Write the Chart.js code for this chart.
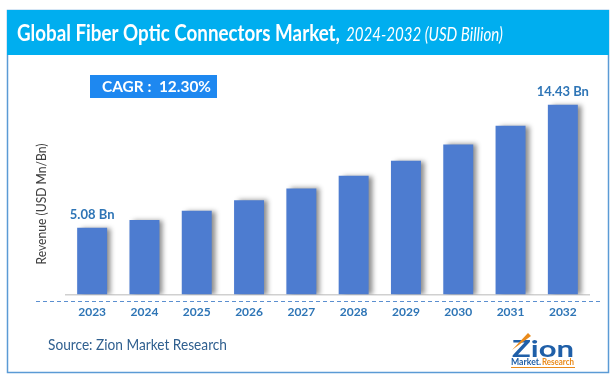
<!DOCTYPE html>
<html><head><meta charset="utf-8">
<script src="https://cdn.jsdelivr.net/npm/chart.js@4.4.0/dist/chart.umd.min.js"></script>
<style>html,body{margin:0;padding:0;background:#fff}#wrap{width:616px;height:385px;position:relative}</style>
</head><body><div id="wrap"><canvas id="c" width="616" height="385"></canvas></div>
<script>
const years = ["2023","2024","2025","2026","2027","2028","2029","2030","2031","2032"];
const revenue = [5.08, 5.67, 6.37, 7.17, 8.07, 9.03, 10.16, 11.41, 12.83, 14.43];
const valueLabels = ["5.08 Bn","","","","","","","","","14.43 Bn"];
const titleMain = "Global Fiber Optic Connectors Market,";
const titleSub = "2024-2032 (USD Billion)";
const cagrText = "CAGR :  12.30%";
const yTitle = "Revenue (USD Mn/Bn)";
const sourceText = "Source: Zion Market Research";

const FONT = "Lato, 'Open Sans', sans-serif";

function fitText(ctx, text, font, x, y, target) {
  ctx.font = font;
  const w = ctx.measureText(text).width;
  const s = target / w;
  ctx.save();
  ctx.translate(x, y);
  ctx.scale(s, 1);
  ctx.fillText(text, 0, 0);
  ctx.restore();
}

const deco = {
  id: 'deco',
  beforeDraw(chart) {
    const ctx = chart.ctx;
    ctx.save();
    ctx.fillStyle = '#fff';
    ctx.fillRect(0,0,chart.width,chart.height);
    ctx.strokeStyle = '#5B9BD5';
    ctx.lineWidth = 1.5;
    ctx.strokeRect(7.5, 10.5, 601, 362);
    ctx.fillStyle = '#00AEEF';
    ctx.fillRect(7, 10, 602, 45);
    ctx.fillStyle = '#fff';
    ctx.textAlign = 'left';
    ctx.textBaseline = 'alphabetic';
    fitText(ctx, titleMain, `bold 22px ${FONT}`, 17, 41, 323);
    fitText(ctx, titleSub, `italic 19px ${FONT}`, 346, 41, 157);
    // CAGR box
    ctx.fillStyle = '#1E88F0';
    ctx.fillRect(90, 75, 127, 23);
    ctx.fillStyle = '#fff';
    ctx.textBaseline = 'middle';
    fitText(ctx, cagrText, `bold 16px ${FONT}`, 102, 87, 109);
    // y title
    ctx.save();
    ctx.translate(42, 204);
    ctx.rotate(-Math.PI/2);
    ctx.fillStyle = '#404040';
    ctx.textAlign = 'center';
    ctx.font = `13px ${FONT}`;
    const yw = ctx.measureText(yTitle).width;
    ctx.scale(121 / yw, 1);
    ctx.fillText(yTitle, 0, 0);
    ctx.restore();
    // source
    ctx.textAlign = 'left';
    ctx.textBaseline = 'alphabetic';
    ctx.fillStyle = '#2F5F8F';
    fitText(ctx, sourceText, `15px ${FONT}`, 48, 350, 179);
    // logo
    ctx.fillStyle = '#1F5FA8';
    fitText(ctx, "Zion", `bold 23px ${FONT}`, 512, 357, 62);
    ctx.fillStyle = '#E98A1B';
    ctx.beginPath(); ctx.moveTo(512, 350); ctx.lineTo(528, 333); ctx.lineTo(531, 336); ctx.closePath(); ctx.fill();
    ctx.fillStyle = '#1F5FA8';
    fitText(ctx, "Market.", `bold 9px ${FONT}`, 511, 365, 30);
    ctx.fillStyle = '#E98A1B';
    fitText(ctx, "Research", `bold 9px ${FONT}`, 542, 365, 32);
    ctx.strokeStyle = '#E98A1B';
    ctx.lineWidth = 1;
    ctx.beginPath(); ctx.moveTo(511, 367.5); ctx.lineTo(575, 367.5); ctx.stroke();
    ctx.restore();
  },
  beforeDatasetsDraw(chart) {
    const ctx = chart.ctx;
    ctx.save();
    ctx.shadowColor = 'rgba(0,0,0,0.45)';
    ctx.shadowBlur = 5;
    ctx.shadowOffsetX = 4;
    ctx.shadowOffsetY = 0;
  },
  afterDatasetsDraw(chart) {
    const ctx = chart.ctx;
    ctx.restore();
    ctx.save();
    ctx.strokeStyle = '#5B8FD0';
    ctx.setLineDash([4,3]);
    ctx.lineWidth = 1;
    ctx.beginPath(); ctx.moveTo(36, 301.5); ctx.lineTo(602, 301.5); ctx.stroke();
    ctx.restore();
    const meta = chart.getDatasetMeta(0);
    ctx.save();
    ctx.fillStyle = '#2E75B6';
    ctx.font = `bold 13px ${FONT}`;
    ctx.textAlign = 'center';
    ctx.textBaseline = 'bottom';
    meta.data.forEach((bar, i) => {
      if (valueLabels[i]) ctx.fillText(valueLabels[i], bar.x, bar.y - 6);
    });
    ctx.restore();
  }
};

new Chart(document.getElementById('c'), {
  type: 'bar',
  data: { labels: years, datasets: [{ data: revenue, backgroundColor: '#4D7CD0', barPercentage: 0.573, categoryPercentage: 1 }] },
  options: {
    responsive: false, animation: false,
    layout: { padding: { left: 66, right: 27, top: 84, bottom: 56 } },
    plugins: { legend: { display: false }, tooltip: { enabled: false } },
    scales: {
      x: { grid: { display: false, drawTicks: false }, border: { display: true, color: '#D0D0D0', width: 1.5 },
           ticks: { color: '#2E75B6', font: { family: FONT, size: 12, weight: 'bold' }, padding: 10 } },
      y: { display: false, min: 0, max: 16 }
    }
  },
  plugins: [deco]
});
</script></body></html>
